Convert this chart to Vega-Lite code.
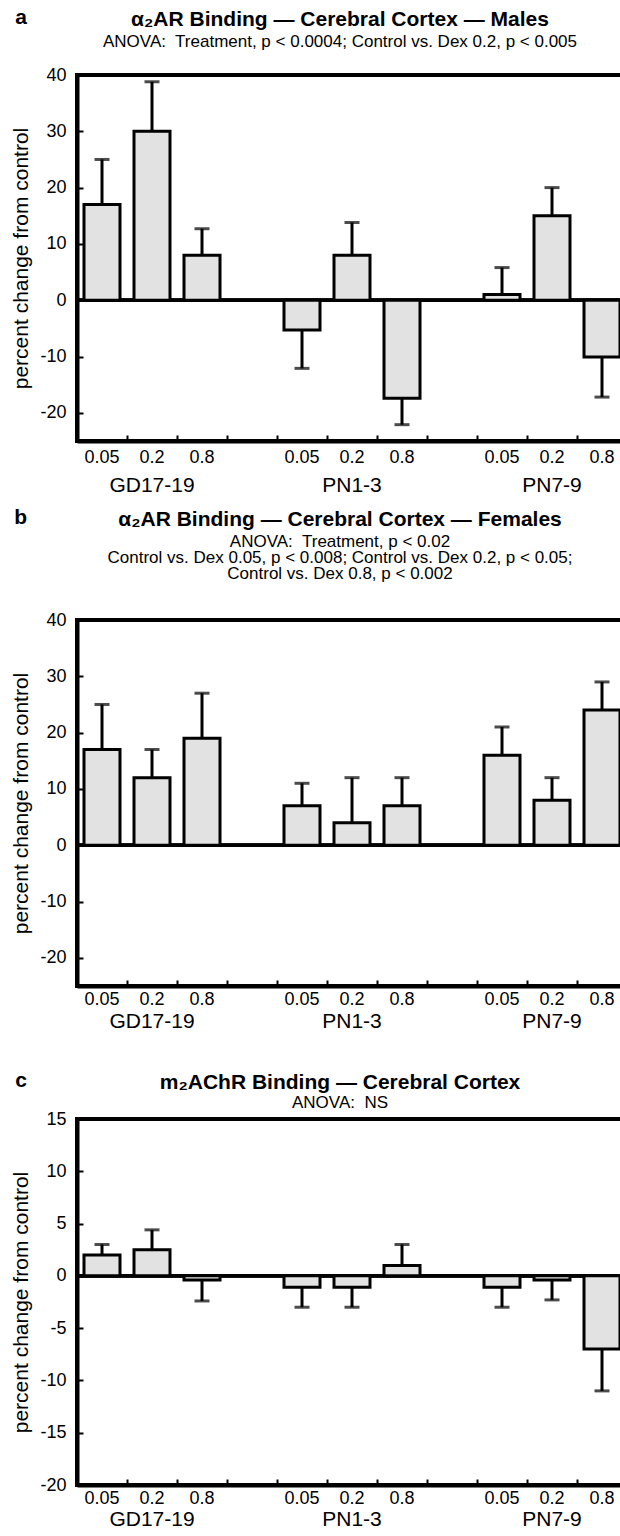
{
  "$schema": "https://vega.github.io/schema/vega-lite/v6.json",
  "background": "white",
  "padding": {"left": 8, "top": 7, "right": 0, "bottom": 0},
  "config": {
    "font": "Liberation Sans",
    "view": {"stroke": "black", "strokeWidth": 4},
    "title": {"fontSize": 21, "fontWeight": "bold", "color": "black", "subtitleFontSize": 17, "subtitleColor": "black", "subtitlePadding": 4, "subtitleLineHeight": 17},
    "axis": {"domainColor": "black", "domainWidth": 4, "tickColor": "black", "tickWidth": 2, "grid": false, "labelColor": "black", "titleColor": "black", "labelFont": "Liberation Sans", "titleFont": "Liberation Sans"},
    "axisY": {"tickSize": -6, "labelPadding": 17, "labelFontSize": 18, "titleFontSize": 21, "titleFontWeight": "normal", "titlePadding": 8},
    "axisX": {"tickSize": -6, "labelFontSize": 18, "labelAngle": 0, "title": null}
  },
  "datasets": {
    "a": [
      {"slot": "GD17-19|0.05", "value": 17, "err": 25},
      {"slot": "GD17-19|0.2", "value": 30, "err": 38.8},
      {"slot": "GD17-19|0.8", "value": 8, "err": 12.7},
      {"slot": "PN1-3|0.05", "value": -5.3, "err": -12.1},
      {"slot": "PN1-3|0.2", "value": 8, "err": 13.8},
      {"slot": "PN1-3|0.8", "value": -17.4, "err": -22.1},
      {"slot": "PN7-9|0.05", "value": 1, "err": 5.8},
      {"slot": "PN7-9|0.2", "value": 15, "err": 20},
      {"slot": "PN7-9|0.8", "value": -10.1, "err": -17.2}
    ],
    "b": [
      {"slot": "GD17-19|0.05", "value": 17, "err": 25},
      {"slot": "GD17-19|0.2", "value": 12, "err": 17},
      {"slot": "GD17-19|0.8", "value": 19, "err": 27},
      {"slot": "PN1-3|0.05", "value": 7, "err": 11},
      {"slot": "PN1-3|0.2", "value": 4, "err": 12},
      {"slot": "PN1-3|0.8", "value": 7, "err": 12},
      {"slot": "PN7-9|0.05", "value": 16, "err": 21},
      {"slot": "PN7-9|0.2", "value": 8, "err": 12},
      {"slot": "PN7-9|0.8", "value": 24, "err": 29}
    ],
    "c": [
      {"slot": "GD17-19|0.05", "value": 2, "err": 3},
      {"slot": "GD17-19|0.2", "value": 2.5, "err": 4.4},
      {"slot": "GD17-19|0.8", "value": -0.4, "err": -2.4},
      {"slot": "PN1-3|0.05", "value": -1.1, "err": -3},
      {"slot": "PN1-3|0.2", "value": -1.1, "err": -3},
      {"slot": "PN1-3|0.8", "value": 1, "err": 3},
      {"slot": "PN7-9|0.05", "value": -1.1, "err": -3},
      {"slot": "PN7-9|0.2", "value": -0.4, "err": -2.3},
      {"slot": "PN7-9|0.8", "value": -7, "err": -11}
    ]
  },
  "spacing": 37,
  "vconcat": [
    {
      "spacing": 10,
      "vconcat": [
        {
          "title": {"text": "a", "orient": "left", "anchor": "end", "angle": 0, "baseline": "top", "align": "left", "fontSize": 21, "fontWeight": "bold", "offset": -18},
          "vconcat": [
            {
              "width": 550, "height": 366,
              "data": {"name": "a"},
              "title": {"text": "α₂AR Binding — Cerebral Cortex — Males", "subtitle": "ANOVA:\u00a0 Treatment, p < 0.0004; Control vs. Dex 0.2, p < 0.005", "offset": 16, "dx": -12},
              "resolve": {"axis": {"x": "independent"}},
              "layer": [
                {"mark": {"type": "rule", "color": "black", "strokeWidth": 3}, "encoding": {"y": {"datum": 0, "type": "quantitative"}}},
                {
                  "mark": {"type": "bar", "fill": "#e2e2e2", "stroke": "black", "strokeWidth": 3, "width": {"band": 0.72}},
                  "encoding": {
                    "x": {"field": "slot", "type": "nominal", "scale": {"domain": ["GD17-19|0.05", "GD17-19|0.2", "GD17-19|0.8", "gap1", "PN1-3|0.05", "PN1-3|0.2", "PN1-3|0.8", "gap2", "PN7-9|0.05", "PN7-9|0.2", "PN7-9|0.8"], "paddingInner": 0, "paddingOuter": 0}, "axis": {"orient": "bottom", "bandPosition": 0, "labelPadding": 13, "labelExpr": "indexof(datum.value, '|') > 0 ? split(datum.value, '|')[1] : ''"}},
                    "y": {"field": "value", "type": "quantitative", "scale": {"domain": [-25, 40], "nice": false, "zero": false}, "axis": {"values": [-20, -10, 0, 10, 20, 30, 40], "title": "percent change from control", "labelExpr": "datum.value < 0 ? '-' + abs(datum.value) : '' + datum.value"}},
                    "y2": {"datum": 0}
                  }
                },
                {
                  "mark": {"type": "rule", "color": "black", "strokeWidth": 3},
                  "encoding": {
                    "x": {"field": "slot", "type": "nominal", "axis": null},
                    "y": {"field": "value", "type": "quantitative"},
                    "y2": {"field": "err"}
                  }
                },
                {
                  "mark": {"type": "tick", "color": "black", "thickness": 3, "size": 15, "orient": "horizontal"},
                  "encoding": {
                    "x": {"field": "slot", "type": "nominal", "axis": {"orient": "bottom", "ticks": false, "domain": false, "labelPadding": 33, "labelFontSize": 21, "labelExpr": "indexof(datum.value, '|0.2') > 0 ? split(datum.value, '|')[0] : ''"}},
                    "y": {"field": "err", "type": "quantitative"}
                  }
                }
              ]
            }
          ]
        },
        {
          "title": {"text": "b", "orient": "left", "anchor": "end", "angle": 0, "baseline": "top", "align": "left", "fontSize": 21, "fontWeight": "bold", "offset": -18},
          "vconcat": [
            {
              "width": 550, "height": 366,
              "data": {"name": "b"},
              "title": {"text": "α₂AR Binding — Cerebral Cortex — Females", "subtitle": ["ANOVA:\u00a0 Treatment, p < 0.02", "Control vs. Dex 0.05, p < 0.008; Control vs. Dex 0.2, p < 0.05;", "Control vs. Dex 0.8, p < 0.002"], "subtitleLineHeight": 16, "offset": 29, "dx": -12},
              "resolve": {"axis": {"x": "independent"}},
              "layer": [
                {"mark": {"type": "rule", "color": "black", "strokeWidth": 3}, "encoding": {"y": {"datum": 0, "type": "quantitative"}}},
                {
                  "mark": {"type": "bar", "fill": "#e2e2e2", "stroke": "black", "strokeWidth": 3, "width": {"band": 0.72}},
                  "encoding": {
                    "x": {"field": "slot", "type": "nominal", "scale": {"domain": ["GD17-19|0.05", "GD17-19|0.2", "GD17-19|0.8", "gap1", "PN1-3|0.05", "PN1-3|0.2", "PN1-3|0.8", "gap2", "PN7-9|0.05", "PN7-9|0.2", "PN7-9|0.8"], "paddingInner": 0, "paddingOuter": 0}, "axis": {"orient": "bottom", "bandPosition": 0, "labelPadding": 10, "labelExpr": "indexof(datum.value, '|') > 0 ? split(datum.value, '|')[1] : ''"}},
                    "y": {"field": "value", "type": "quantitative", "scale": {"domain": [-25, 40], "nice": false, "zero": false}, "axis": {"values": [-20, -10, 0, 10, 20, 30, 40], "title": "percent change from control", "labelExpr": "datum.value < 0 ? '-' + abs(datum.value) : '' + datum.value"}},
                    "y2": {"datum": 0}
                  }
                },
                {
                  "mark": {"type": "rule", "color": "black", "strokeWidth": 3},
                  "encoding": {
                    "x": {"field": "slot", "type": "nominal", "axis": null},
                    "y": {"field": "value", "type": "quantitative"},
                    "y2": {"field": "err"}
                  }
                },
                {
                  "mark": {"type": "tick", "color": "black", "thickness": 3, "size": 15, "orient": "horizontal"},
                  "encoding": {
                    "x": {"field": "slot", "type": "nominal", "axis": {"orient": "bottom", "ticks": false, "domain": false, "labelPadding": 24, "labelFontSize": 21, "labelExpr": "indexof(datum.value, '|0.2') > 0 ? split(datum.value, '|')[0] : ''"}},
                    "y": {"field": "err", "type": "quantitative"}
                  }
                }
              ]
            }
          ]
        }
      ]
    },
    {
      "title": {"text": "c", "orient": "left", "anchor": "end", "angle": 0, "baseline": "top", "align": "left", "fontSize": 21, "fontWeight": "bold", "offset": -18},
      "vconcat": [
        {
          "width": 550, "height": 366,
          "data": {"name": "c"},
          "title": {"text": "m₂AChR Binding — Cerebral Cortex", "subtitle": "ANOVA:\u00a0 NS", "subtitlePadding": 2, "offset": -1, "dx": -12},
          "resolve": {"axis": {"x": "independent"}},
          "layer": [
            {"mark": {"type": "rule", "color": "black", "strokeWidth": 3}, "encoding": {"y": {"datum": 0, "type": "quantitative"}}},
            {
              "mark": {"type": "bar", "fill": "#e2e2e2", "stroke": "black", "strokeWidth": 3, "width": {"band": 0.72}},
              "encoding": {
                "x": {"field": "slot", "type": "nominal", "scale": {"domain": ["GD17-19|0.05", "GD17-19|0.2", "GD17-19|0.8", "gap1", "PN1-3|0.05", "PN1-3|0.2", "PN1-3|0.8", "gap2", "PN7-9|0.05", "PN7-9|0.2", "PN7-9|0.8"], "paddingInner": 0, "paddingOuter": 0}, "axis": {"orient": "bottom", "bandPosition": 0, "labelPadding": 10, "labelExpr": "indexof(datum.value, '|') > 0 ? split(datum.value, '|')[1] : ''"}},
                "y": {"field": "value", "type": "quantitative", "scale": {"domain": [-20, 15], "nice": false, "zero": false}, "axis": {"values": [-20, -15, -10, -5, 0, 5, 10, 15], "title": "percent change from control", "labelExpr": "datum.value < 0 ? '-' + abs(datum.value) : '' + datum.value"}},
                "y2": {"datum": 0}
              }
            },
            {
              "mark": {"type": "rule", "color": "black", "strokeWidth": 3},
              "encoding": {
                "x": {"field": "slot", "type": "nominal", "axis": null},
                "y": {"field": "value", "type": "quantitative"},
                "y2": {"field": "err"}
              }
            },
            {
              "mark": {"type": "tick", "color": "black", "thickness": 3, "size": 15, "orient": "horizontal"},
              "encoding": {
                "x": {"field": "slot", "type": "nominal", "axis": {"orient": "bottom", "ticks": false, "domain": false, "labelPadding": 23, "labelFontSize": 21, "labelExpr": "indexof(datum.value, '|0.2') > 0 ? split(datum.value, '|')[0] : ''"}},
                "y": {"field": "err", "type": "quantitative"}
              }
            }
          ]
        }
      ]
    }
  ]
}
